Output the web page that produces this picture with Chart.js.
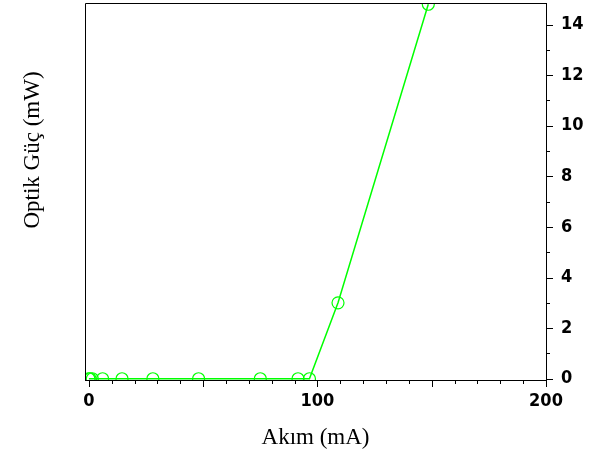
<!DOCTYPE html>
<html>
<head>
<meta charset="utf-8">
<script src="https://cdn.jsdelivr.net/npm/chart.js@4"></script>
<style>
  html, body { margin: 0; padding: 0; background: #fff; }
  #wrap { width: 596px; height: 466px; }
</style>
</head>
<body>
<div id="wrap"><canvas id="lpChart" width="596" height="466"></canvas></div>
<script>
// current (mA) and optical power (mW)
const currentMA = [0, 0.5, 1.5, 6, 14.5, 28, 48, 75, 91.5, 96.5, 109, 148.5];
const powerMW   = [0, 0, 0, 0, 0, 0, 0, 0, 0, 0, 3.0, 14.8];

const xTicks = [0, 10, 20, 30, 40, 50, 60, 70, 80, 90, 100, 110, 120, 130, 140, 150, 160, 170, 180, 190, 200];
const xLabels = [0, 100, 200];
const yTicks = [0, 1, 2, 3, 4, 5, 6, 7, 8, 9, 10, 11, 12, 13, 14];
const yLabels = [0, 2, 4, 6, 8, 10, 12, 14];

const tickFont = { family: "'DejaVu Sans Condensed', 'Liberation Sans', sans-serif", size: 18, weight: "bold" };
const titleFont = { family: "'Liberation Serif', 'Times New Roman', serif", size: 23 };

// frame, tick marks and left title
const framePlugin = {
    id: "frame",
    afterDraw(chart) {
        const { ctx, chartArea: a, scales } = chart;
        ctx.save();
        ctx.strokeStyle = "#000";
        ctx.lineWidth = 1;
        ctx.beginPath();
        ctx.moveTo(a.left + 0.5, a.bottom);
        ctx.lineTo(a.left + 0.5, a.top + 0.5);
        ctx.lineTo(a.right, a.top + 0.5);
        ctx.stroke();

        ctx.beginPath();
        xTicks.forEach(v => {
            const px = Math.round(scales.x.getPixelForValue(v)) + 0.5;
            const len = v % 50 === 0 ? 7 : 4;
            ctx.moveTo(px, a.bottom);
            ctx.lineTo(px, a.bottom + len);
        });
        yTicks.forEach(v => {
            const py = Math.round(scales.y.getPixelForValue(v)) + 0.5;
            const len = v % 2 === 0 ? 7 : 4;
            ctx.moveTo(a.right, py);
            ctx.lineTo(a.right + len, py);
        });
        ctx.stroke();

        ctx.fillStyle = "#000";
        ctx.font = titleFont.size + "px " + titleFont.family;
        ctx.textAlign = "center";
        ctx.textBaseline = "middle";
        ctx.translate(33, 150);
        ctx.rotate(-Math.PI / 2);
        ctx.fillText("Optik Güç (mW)", 0, 0);
        ctx.restore();
    }
};

new Chart(document.getElementById("lpChart"), {
    type: "scatter",
    data: {
        datasets: [{
            label: "P-I",
            data: currentMA.map((x, i) => ({ x: x, y: powerMW[i] })),
            showLine: true,
            borderColor: "#00ff00",
            borderWidth: 1.5,
            pointRadius: 6,
            pointBorderWidth: 1.2,
            pointBorderColor: "#00ff00",
            pointBackgroundColor: "rgba(0,0,0,0)",
            tension: 0
        }]
    },
    options: {
        responsive: false,
        animation: false,
        layout: { autoPadding: false, padding: { left: 85, top: 3, right: 0, bottom: 0 } },
        plugins: { legend: { display: false }, tooltip: { enabled: false } },
        scales: {
            x: {
                type: "linear",
                position: "bottom",
                min: -1.7,
                max: 200,
                afterBuildTicks: s => { s.ticks = xLabels.map(v => ({ value: v })); },
                afterFit: s => { s.height = 86; s.paddingLeft = 0; s.paddingRight = 0; },
                ticks: {
                    color: "#000",
                    font: tickFont,
                    padding: 4,
                    maxRotation: 0,
                    autoSkip: false
                },
                grid: { drawOnChartArea: false, drawTicks: true, tickLength: 7, tickColor: "rgba(0,0,0,0)" },
                border: { display: true, color: "#000", width: 1 },
                title: {
                    display: true,
                    text: "Akım (mA)",
                    color: "#000",
                    font: titleFont,
                    padding: { top: 0, bottom: 14 }
                }
            },
            y: {
                type: "linear",
                position: "right",
                min: -0.05,
                max: 14.85,
                afterBuildTicks: s => { s.ticks = yLabels.map(v => ({ value: v })); },
                afterFit: s => { s.width = 50; s.paddingTop = 0; s.paddingBottom = 0; },
                ticks: {
                    color: "#000",
                    font: tickFont,
                    padding: 8,
                    autoSkip: false
                },
                grid: { drawOnChartArea: false, drawTicks: true, tickLength: 7, tickColor: "rgba(0,0,0,0)" },
                border: { display: true, color: "#000", width: 1 }
            }
        }
    },
    plugins: [framePlugin]
});
</script>
</body>
</html>
